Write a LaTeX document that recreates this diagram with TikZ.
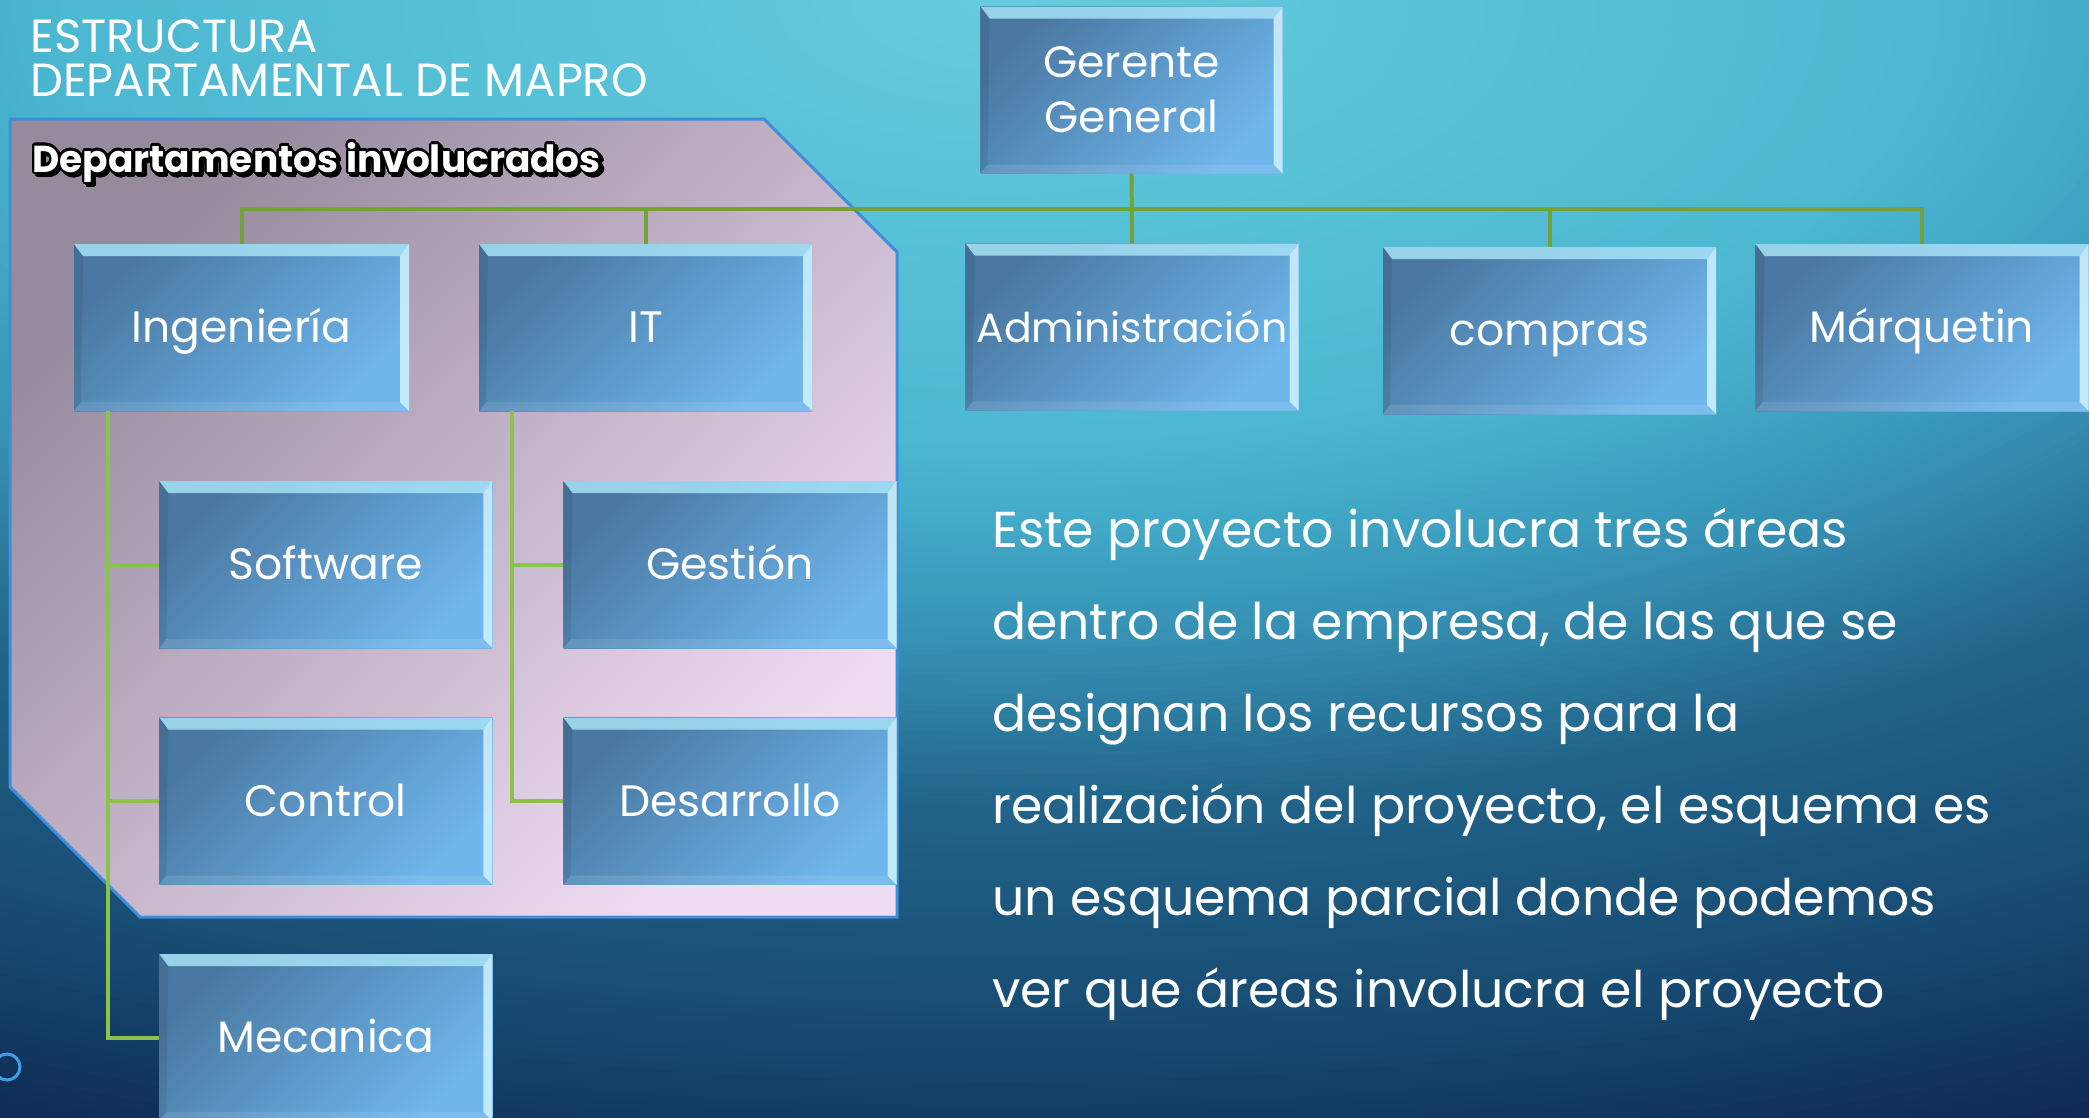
\documentclass[tikz,border=0pt]{standalone}
\usepackage{fontspec}
\usepackage{contour}
\usetikzlibrary{calc}
\setmainfont{Poppins}

\definecolor{bgA}{HTML}{66CCDE}
\definecolor{bgB}{HTML}{4CB8D1}
\definecolor{bgC}{HTML}{43ABC9}
\definecolor{bgD}{HTML}{3590B3}
\definecolor{bgE}{HTML}{22648A}
\definecolor{bgF}{HTML}{174A71}
\definecolor{bgG}{HTML}{0D2650}
\definecolor{panA}{HTML}{978A9D}
\definecolor{panB}{HTML}{EFDDF4}
\definecolor{panedge}{HTML}{3E8EDC}
\definecolor{boxA}{HTML}{4A78A2}
\definecolor{boxB}{HTML}{6EB6EC}
\definecolor{bevtop}{HTML}{A6E2F6}
\definecolor{bevright}{HTML}{D6F7FF}
\definecolor{linkolive}{HTML}{74A23A}
\definecolor{linkgreen}{HTML}{8BC34A}
\definecolor{ringblue}{HTML}{3E9EE8}

\contourlength{2.2pt}
\newcommand{\outlined}[1]{\makebox[0pt][l]{\hspace{3pt}\raisebox{-3pt}{\color{black}\contour{black}{#1}}}\contour{black}{#1}}

\tikzset{
  orgbox/.style={rectangle, minimum width=333pt, minimum height=167pt, inner sep=0pt,
    top color=boxA, bottom color=boxB, shading angle=45, text=white, align=center,
    text height=40pt, text depth=10pt, font=\fontsize{44}{55}\selectfont,
    path picture={
      \fill[bevtop, opacity=.85] (path picture bounding box.north west) -- (path picture bounding box.north east)
        -- ([shift={(-9pt,-12pt)}]path picture bounding box.north east) -- ([shift={(9pt,-12pt)}]path picture bounding box.north west) -- cycle;
      \fill[bevright, opacity=.8] (path picture bounding box.north east) -- (path picture bounding box.south east)
        -- ([shift={(-9pt,9pt)}]path picture bounding box.south east) -- ([shift={(-9pt,-12pt)}]path picture bounding box.north east) -- cycle;
      \fill[black, opacity=.08] (path picture bounding box.north west) -- (path picture bounding box.south west)
        -- ([shift={(7pt,9pt)}]path picture bounding box.south west) -- ([shift={(9pt,-12pt)}]path picture bounding box.north west) -- cycle;
      \fill[white, opacity=.1] (path picture bounding box.south west) -- (path picture bounding box.south east)
        -- ([shift={(-9pt,9pt)}]path picture bounding box.south east) -- ([shift={(7pt,9pt)}]path picture bounding box.south west) -- cycle;
    }},
  link/.style={draw=linkolive, line width=4pt},
  sublink/.style={draw=linkgreen, line width=4pt},
  panel/.style={draw=panedge, line width=3pt, top color=panA, bottom color=panB, shading angle=45},
  heading/.style={text=white, align=left, inner sep=0pt, font=\fontsize{46.5}{44}\selectfont},
  para/.style={text=white, align=left, inner sep=0pt, font=\fontsize{50.5}{92}\selectfont},
}

\begin{document}
\begin{tikzpicture}[x=1pt,y=-1pt]
  \useasboundingbox (0,0) rectangle (2089,1117);
  % fondo
  \begin{scope}
    \clip (0,0) rectangle (2089,1117);
    \fill[bgG] (0,0) rectangle (2089,1117);
    \foreach \ra/\rb/\ca/\cb in {48/40/bgG/bgF, 40/31/bgF/bgE, 31/25/bgE/bgD, 25/20/bgD/bgC, 20/17/bgC/bgB, 17/0/bgB/bgA} {
      \foreach \k in {0,...,24} {
        \pgfmathsetmacro{\rr}{\ra-(\ra-\rb)*\k/25}
        \pgfmathtruncatemacro{\pp}{100-\k*4}
        \fill[\ca!\pp!\cb] (1000,0) ellipse [x radius=55*\rr, y radius=26*\rr];
      }
    }
  \end{scope}

  % area de departamentos
  \shade[panel] (10,119) -- (764,119) -- (897,252) -- (897,917) -- (140,917) -- (10,787) -- cycle;
  \draw[draw=ringblue, line width=3pt] (7,1067) circle (13);

  \node[heading, anchor=north west] (ttl) at (30,19) {ESTRUCTURA\\DEPARTAMENTAL DE MAPRO};
  \node[text=white, inner sep=0pt, anchor=base west, font=\bfseries\fontsize{37.5}{40}\selectfont] (dep) at (32,172) {\outlined{Departamentos involucrados}};

  \coordinate (bus) at (0,209);

  \node[orgbox, minimum width=302pt, text height=, text depth=] (gg) at (1131.6,90) {Gerente\\General};
  \node[orgbox, minimum width=335pt] (ing) at (241.5,327.5) {Ingeniería};
  \node[orgbox] (it) at (645.5,327.5) {IT};
  \node[orgbox, font=\fontsize{41}{50}\selectfont] (adm) at (1132,327) {Administración};
  \node[orgbox] (com) at (1549.5,330.5) {compras};
  \node[orgbox] (mar) at (1922,327.5) {Márquetin};
  \node[orgbox] (soft) at (325.8,564.5) {Software};
  \node[orgbox] (ctrl) at (325.8,801) {Control};
  \node[orgbox] (mec) at (325.8,1037.5) {Mecanica};
  \node[orgbox] (ges) at (730,564.5) {Gestión};
  \node[orgbox] (des) at (730,801) {Desarrollo};

  % conectores
  \draw[link] (gg.south) -- (adm.north);
  \draw[link] (gg.south |- bus) -| (ing.north);
  \draw[link] (gg.south |- bus) -| (it.north);
  \draw[link] (gg.south |- bus) -| (com.north);
  \draw[link] (gg.south |- bus) -| (mar.north);
  \draw[sublink] ($(ing.south west)+(34,0)$) |- (soft.west);
  \draw[sublink] ($(ing.south west)+(34,0)$) |- (ctrl.west);
  \draw[sublink] ($(ing.south west)+(34,0)$) |- (mec.west);
  \draw[sublink] ($(it.south west)+(33,0)$) |- (ges.west);
  \draw[sublink] ($(it.south west)+(33,0)$) |- (des.west);

  \node[para, anchor=base west] (txt) at (992,1007) {Este proyecto involucra tres áreas\\dentro de la empresa, de las que se\\designan los recursos para la\\realización del proyecto, el esquema es\\un esquema parcial donde podemos\\ver que áreas involucra el proyecto};
\end{tikzpicture}
\end{document}
